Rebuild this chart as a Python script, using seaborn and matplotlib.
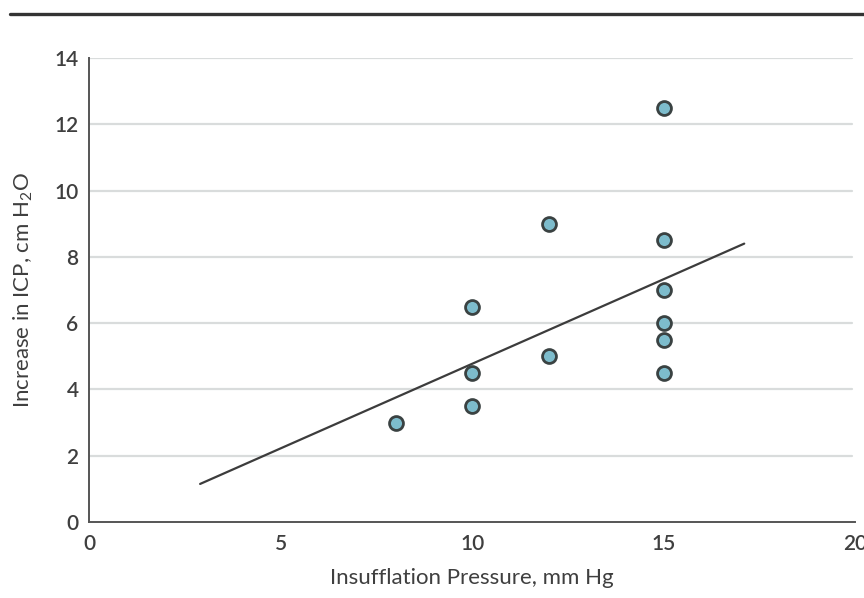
import matplotlib
matplotlib.use("Agg")
import matplotlib.pyplot as plt
import seaborn as sns
import pandas as pd
from matplotlib.lines import Line2D

# values
pressure = [8, 10, 10, 10, 12, 12, 15, 15, 15, 15, 15, 15]
icp_increase = [3, 6.5, 4.5, 3.5, 9, 5, 12.5, 8.5, 7, 6, 5.5, 4.5]
fit_x = [2.9, 17.1]
fit_y = [1.15, 8.4]
x_ticks = [0, 5, 10, 15, 20]
y_ticks = [0, 2, 4, 6, 8, 10, 12, 14]


def create_graphic():
    sns.set_style("white")
    plt.rcParams['font.family'] = ['Lato', 'DejaVu Sans']
    plt.rcParams['mathtext.default'] = 'regular'

    df = pd.DataFrame({'x': pressure, 'y': icp_increase})
    fit = pd.DataFrame({'x': fit_x, 'y': fit_y})

    fig = plt.figure(figsize=(8.64, 5.98), dpi=100)
    ax = fig.add_axes([0.103, 0.127, 0.887, 0.776])

    for t in y_ticks[1:]:
        ax.plot([0, 19.9], [t, t], color='#d9dcdc', lw=1.6, zorder=0)

    sns.lineplot(data=fit, x='x', y='y', ax=ax, color='#3c3c3c', lw=1.6, zorder=2)
    sns.scatterplot(data=df, x='x', y='y', ax=ax, s=100, color='#7dbccc',
                    edgecolor='#3a4242', linewidth=2.0, zorder=3)

    ax.set_xlim(0, 20)
    ax.set_ylim(0, 14)
    ax.set_xticks(x_ticks)
    ax.set_yticks(y_ticks)
    for s in ['top', 'right']:
        ax.spines[s].set_visible(False)
    for s in ['left', 'bottom']:
        ax.spines[s].set_color('#555555')
        ax.spines[s].set_linewidth(1.4)
    ax.tick_params(axis='both', labelsize=15, colors='#555555', labelcolor='#3f3f3f',
                   length=5, width=1.2, direction='inout')
    ax.tick_params(axis='x', pad=6)
    ax.tick_params(axis='y', pad=5)
    for lbl in ax.get_xticklabels() + ax.get_yticklabels():
        lbl.set_fontweight('semibold')
    ax.set_xlabel('Insufflation Pressure, mm Hg', fontsize=16, color='#3f3f3f', labelpad=10)
    ax.set_ylabel('Increase in ICP, cm H$_2$O', fontsize=16, color='#3f3f3f', labelpad=14)

    fig.add_artist(Line2D([0.012, 1.0], [0.977, 0.977], color='#333333', lw=2.4))

    fig.savefig('out.png', dpi=100)


if __name__ == '__main__':
    create_graphic()
